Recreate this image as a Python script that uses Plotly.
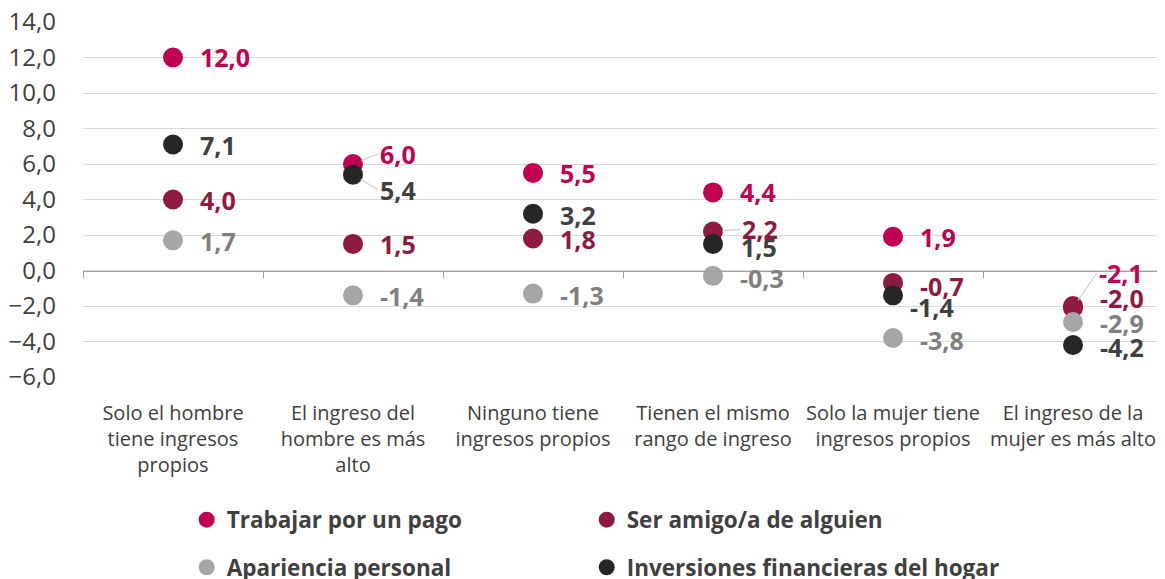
import plotly.graph_objects as go

categories = [
    "Solo el hombre<br>tiene ingresos<br>propios",
    "El ingreso del<br>hombre es más<br>alto",
    "Ninguno tiene<br>ingresos propios",
    "Tienen el mismo<br>rango de ingreso",
    "Solo la mujer tiene<br>ingresos propios",
    "El ingreso de la<br>mujer es más alto",
]
series_names = [
    "Trabajar por un pago",
    "Ser amigo/a de alguien",
    "Apariencia personal",
    "Inversiones financieras del hogar",
]
trabajar = [12.0, 6.0, 5.5, 4.4, 1.9, -2.1]
ser_amigo = [4.0, 1.5, 1.8, 2.2, -0.7, -2.0]
apariencia = [1.7, -1.4, -1.3, -0.3, -3.8, -2.9]
inversiones = [7.1, 5.4, 3.2, 1.5, -1.4, -4.2]
y_ticks = [-6, -4, -2, 0, 2, 4, 6, 8, 10, 12, 14]

values = [trabajar, ser_amigo, apariencia, inversiones]
marker_colors = ["#C00050", "#8E1A3F", "#A6A6A6", "#262626"]
label_colors = ["#C00050", "#8E1A3F", "#808080", "#404040"]
legend_ids = ["legend", "legend2", "legend3", "legend4"]
legend_pos = [(0.096, -0.403), (0.4664, -0.403), (0.096, -0.537), (0.4664, -0.537)]

# label offsets (px) per series/category: (dx, dy, leader)
offsets = [
    [(25, -1, False), (25, -10, True), (25, 0, False), (25, 0, False), (25, 0, False), (24, -35, True)],
    [(25, 0, False), (25, 0, False), (25, 0, False), (27, -2, True), (25, 3, False), (25, -8, False)],
    [(25, 1, False), (25, 1, False), (25, 1, False), (25, 2, False), (25, 2, False), (25, 1, False)],
    [(25, 1, False), (25, 15, True), (25, 1, False), (26, 3, False), (15, 12, False), (25, 2, False)],
]

x_idx = list(range(len(categories)))
fig = go.Figure()
for s, name in enumerate(series_names):
    fig.add_trace(go.Scatter(
        x=x_idx, y=values[s], mode="markers", name=f"<b>{name}</b>",
        marker=dict(size=20, color=marker_colors[s]),
        legend=legend_ids[s], hoverinfo="skip",
    ))

fig.add_trace(go.Scatter(x=[0], y=[0], xaxis="x2", mode="markers",
                         marker=dict(opacity=0), showlegend=False, hoverinfo="skip"))

annotations = []
for s in range(len(series_names)):
    for i, v in enumerate(values[s]):
        dx, dy, leader = offsets[s][i]
        txt = f"{v:.1f}".replace(".", ",")
        font = dict(size=25, color=label_colors[s], family="Open Sans")
        if leader:
            annotations.append(dict(
                x=i, y=v, xref="x", yref="y", text=f"<b>{txt}</b>",
                showarrow=True, arrowhead=0, arrowwidth=1.2, arrowcolor="#D0D0D0",
                ax=dx, ay=dy, xanchor="left", yanchor="middle", standoff=9,
                font=font,
            ))
        else:
            annotations.append(dict(
                x=i, y=v, xref="x", yref="y", text=f"<b>{txt}</b>",
                showarrow=False, xanchor="left", yanchor="middle",
                xshift=dx, yshift=-dy, font=font,
            ))

legend_layout = {}
for lid, (lx, ly) in zip(legend_ids, legend_pos):
    legend_layout[lid] = dict(
        orientation="h", x=lx, y=ly, xanchor="left", yanchor="middle",
        font=dict(size=22.5, color="#404040", family="Open Sans"),
        itemwidth=30, bgcolor="rgba(0,0,0,0)",
    )

fig.update_layout(
    width=1157, height=600,
    margin=dict(l=75, r=2, t=14, b=231),
    paper_bgcolor="white", plot_bgcolor="white",
    separators=",.",
    font=dict(family="Open Sans", color="#404040"),
    annotations=annotations,
    xaxis=dict(
        range=[-0.5, 5.5], tickvals=x_idx, ticktext=categories,
        showgrid=False, zeroline=False, showline=False, ticks="",
        tickfont=dict(size=20, color="#404040"), ticklabelstandoff=22,
        automargin=False, ticklabeloverflow="allow",
    ),
    xaxis2=dict(
        range=[-0.5, 5.5], overlaying="x", anchor="free", position=0.3,
        showgrid=False, zeroline=False, showline=True, linecolor="#A0A0A0", linewidth=1.3,
        ticks="outside", ticklen=6, tickcolor="#A0A0A0", tickwidth=1.3,
        tickvals=[-0.5, 0.5, 1.5, 2.5, 3.5, 4.5, 5.5], showticklabels=False,
    ),
    yaxis=dict(
        range=[-6, 14], tickvals=y_ticks, tickformat=".1f",
        showgrid=True, gridcolor="#D9D9D9", gridwidth=1.3, zeroline=False,
        showline=False, ticks="", automargin=False, ticklabeloverflow="allow",
        tickfont=dict(size=24, color="#404040"), ticklabelstandoff=26,
    ),
    **legend_layout,
)

fig.write_html("out.html")
